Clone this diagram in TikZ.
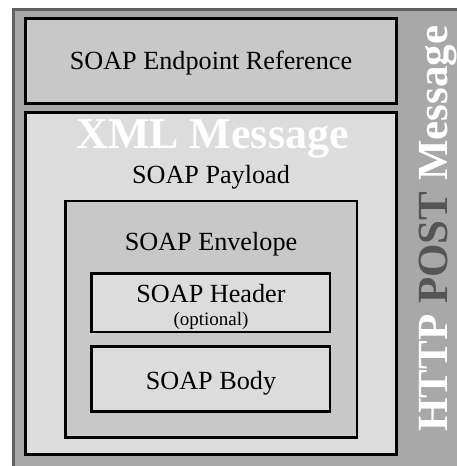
\documentclass[tikz,border=0pt]{standalone}
\usepackage{fontspec}
\setmainfont{Liberation Serif}
\definecolor{frameGray}{RGB}{168,168,168}
\definecolor{frameEdge}{RGB}{96,96,96}
\definecolor{midGray}{RGB}{200,200,200}
\definecolor{lightGray}{RGB}{220,220,220}
\definecolor{postGray}{RGB}{85,85,85}
\tikzset{
  box/.style={draw=black, line width=2.5pt},
  label26/.style={anchor=base, inner sep=0pt, font=\fontsize{26.2}{28}\selectfont},
  bigbold/.style={inner sep=0pt, font=\fontsize{44}{46}\selectfont\bfseries}
}
\begin{document}
\begin{tikzpicture}[x=1pt, y=-1pt]
  \useasboundingbox (0,0) rectangle (457,466);
  \begin{scope}
    \clip (0,0) rectangle (457,466);
    % HTTP frame
    \draw[fill=frameGray, draw=frameEdge, line width=3pt] (13.5,9.5) rectangle (470,480);
  \end{scope}
  % boxes
  \draw[box, fill=midGray]   (25.5,18.5)  rectangle (396.5,103.5);
  \draw[box, fill=lightGray] (25.5,112.5) rectangle (396.5,454.5);
  \draw[box, fill=midGray]   (65.5,201)   rectangle (357,437.5);
  \draw[box, fill=lightGray] (91.5,273.5) rectangle (330,332);
  \draw[box, fill=lightGray] (91.5,346.5) rectangle (330,411.5);
  % labels
  \node[label26] (epr) at (211,69.5) {SOAP Endpoint Reference};
  \node[bigbold, anchor=base, text=white] (xml) at (212.5,148) {XML Message};
  \node[label26] (payload) at (211,183) {SOAP Payload};
  \node[label26] (envelope) at (211,250) {SOAP Envelope};
  \node[label26] (header) at (211,302) {SOAP Header};
  \node[anchor=base, inner sep=0pt, font=\fontsize{19}{20}\selectfont] (opt) at (211,325) {(optional)};
  \node[label26] (body) at (211,389) {SOAP Body};
  \node[inner sep=0pt, font=\fontsize{43}{45}\selectfont\bfseries, anchor=base west, rotate=90] (http) at (447,432)
    {\textcolor{white}{HTTP} \textcolor{postGray}{POST} \textcolor{white}{Message}};
\end{tikzpicture}
\end{document}
